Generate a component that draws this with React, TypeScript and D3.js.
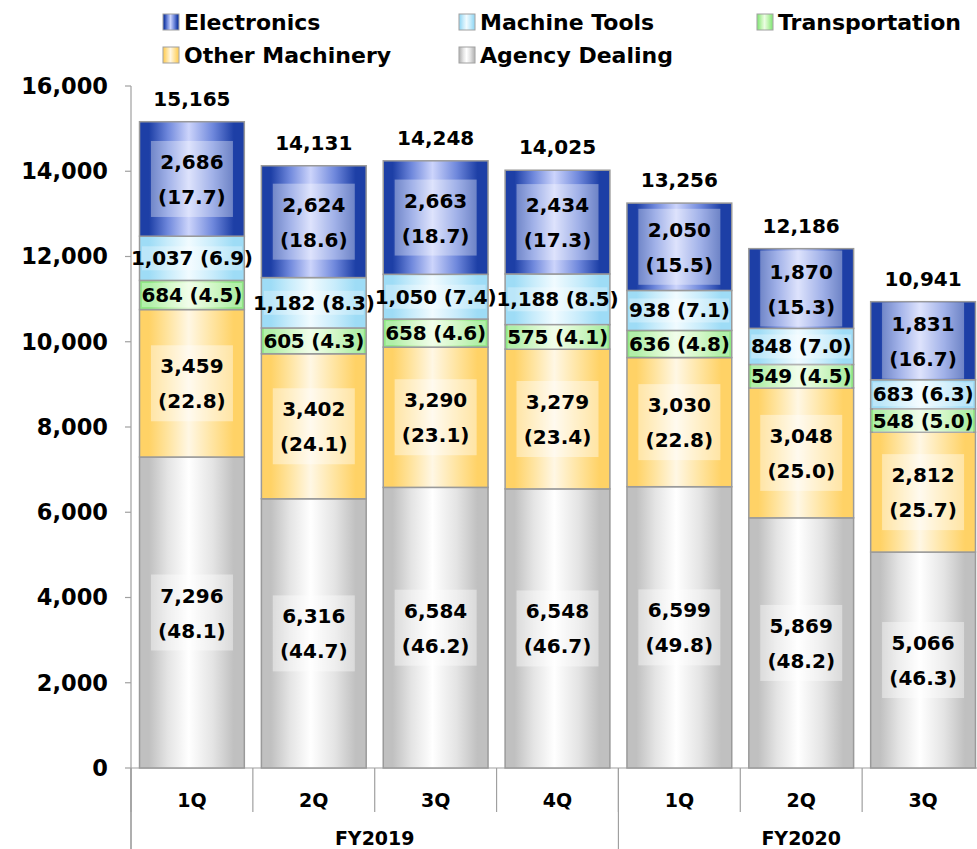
import React from "react";
import * as d3 from "d3";

const quarters = ["1Q", "2Q", "3Q", "4Q", "1Q", "2Q", "3Q"];
const years = ["FY2019", "FY2020"];
const yearSpans = [4, 3];
const agency = [7296, 6316, 6584, 6548, 6599, 5869, 5066];
const agencyPct = ["48.1", "44.7", "46.2", "46.7", "49.8", "48.2", "46.3"];
const other = [3459, 3402, 3290, 3279, 3030, 3048, 2812];
const otherPct = ["22.8", "24.1", "23.1", "23.4", "22.8", "25.0", "25.7"];
const transport = [684, 605, 658, 575, 636, 549, 548];
const transportPct = ["4.5", "4.3", "4.6", "4.1", "4.8", "4.5", "5.0"];
const machineTools = [1037, 1182, 1050, 1188, 938, 848, 683];
const machineToolsPct = ["6.9", "8.3", "7.4", "8.5", "7.1", "7.0", "6.3"];
const electronics = [2686, 2624, 2663, 2434, 2050, 1870, 1831];
const electronicsPct = ["17.7", "18.6", "18.7", "17.3", "15.5", "15.3", "16.7"];
const totals = [15165, 14131, 14248, 14025, 13256, 12186, 10941];
const yTicks = [0, 2000, 4000, 6000, 8000, 10000, 12000, 14000, 16000];

const FONT = "'DejaVu Sans', Verdana, sans-serif";

type Series = { key: string; name: string; values: number[]; pct: string[]; twoLine: boolean; edge: string; mid: string; light: string };
const series: Series[] = [
  { key: "ag", name: "Agency Dealing", values: agency, pct: agencyPct, twoLine: true, edge: "#c0c0c0", mid: "#e4e4e4", light: "#ffffff" },
  { key: "ot", name: "Other Machinery", values: other, pct: otherPct, twoLine: true, edge: "#ffd266", mid: "#ffe4a0", light: "#fff7e4" },
  { key: "tr", name: "Transportation", values: transport, pct: transportPct, twoLine: false, edge: "#90e884", mid: "#c0f4b0", light: "#ebfde2" },
  { key: "mt", name: "Machine Tools", values: machineTools, pct: machineToolsPct, twoLine: false, edge: "#9edcf6", mid: "#c8ecfb", light: "#f0fbff" },
  { key: "el", name: "Electronics", values: electronics, pct: electronicsPct, twoLine: true, edge: "#1d3fa6", mid: "#6f88dc", light: "#ccd4fb" },
];

const legendItems = [
  { key: "el", name: "Electronics", x: 163, y: 22 },
  { key: "mt", name: "Machine Tools", x: 459, y: 22 },
  { key: "tr", name: "Transportation", x: 757, y: 22 },
  { key: "ot", name: "Other Machinery", x: 163, y: 55 },
  { key: "ag", name: "Agency Dealing", x: 459, y: 55 },
];

const fmt = d3.format(",");

export default function App() {
  const W = 977, H = 849;
  const left = 131, right = 984, top = 86, bottom = 768;
  const x = d3.scaleBand<number>().domain(quarters.map((_, i) => i)).range([left, right]).paddingInner(0.14).paddingOuter(0.07);
  const y = d3.scaleLinear().domain([0, 16000]).range([bottom, top]);
  const bandStart = (i: number) => left + i * ((right - left) / quarters.length);

  const stacked = d3.stack<number>().keys(series.map((_, k) => String(k))).value((i, key) => series[+key].values[i])(quarters.map((_, i) => i));

  return (
    <svg width={W} height={H} style={{ display: "block", position: "absolute", left: 0, top: 0 }} fontFamily={FONT}>
      <defs>
        {series.map((s) => (
          <linearGradient key={s.key} id={"g-" + s.key} x1="0" x2="1" y1="0" y2="0">
            <stop offset="0%" stopColor={s.edge} />
            <stop offset="9%" stopColor={s.edge} />
            <stop offset="27%" stopColor={s.mid} />
            <stop offset="47%" stopColor={s.light} />
            <stop offset="70%" stopColor={s.mid} />
            <stop offset="90%" stopColor={s.edge} />
            <stop offset="100%" stopColor={s.edge} />
          </linearGradient>
        ))}
      </defs>
      <rect x={0} y={0} width={W} height={H} fill="#fff" />

      {/* legend */}
      {legendItems.map((l) => (
        <g key={l.key}>
          <rect x={l.x} y={l.y - 8} width={16} height={16} fill={`url(#g-${l.key})`} stroke="#a0a0a0" strokeWidth={1} />
          <text x={l.x + 21} y={l.y} dy="0.35em" fontSize={22} fontWeight="bold" fill="#000">{l.name}</text>
        </g>
      ))}

      {/* y axis */}
      <line x1={left} x2={left} y1={top} y2={H} stroke="#a0a0a0" strokeWidth={1.2} />
      {yTicks.map((t) => (
        <g key={t}>
          <line x1={left - 6} x2={left} y1={y(t)} y2={y(t)} stroke="#a0a0a0" strokeWidth={1.2} />
          <text x={108} y={y(t)} dy="0.35em" textAnchor="end" fontSize={22.5} fontWeight="bold" fill="#000">{fmt(t)}</text>
        </g>
      ))}

      {/* x axis */}
      <line x1={left} x2={right} y1={bottom} y2={bottom} stroke="#a0a0a0" strokeWidth={1.2} />
      {quarters.map((q, i) => (
        <g key={i}>
          <line x1={bandStart(i)} x2={bandStart(i)} y1={bottom} y2={812} stroke="#a0a0a0" strokeWidth={1.2} />
          <text x={(x(i) as number) + x.bandwidth() / 2} y={800} dy="0.35em" textAnchor="middle" fontSize={19} fontWeight="bold" fill="#000">{q}</text>
        </g>
      ))}
      {(() => {
        let acc = 0;
        return years.map((yr, k) => {
          const s = bandStart(acc);
          acc += yearSpans[k];
          const e = bandStart(acc);
          return (
            <g key={yr}>
              <line x1={s} x2={s} y1={bottom} y2={H} stroke="#a0a0a0" strokeWidth={1.2} />
              <text x={(s + e) / 2} y={838} dy="0.35em" textAnchor="middle" fontSize={19} fontWeight="bold" fill="#000">{yr}</text>
            </g>
          );
        });
      })()}

      {/* bars */}
      {stacked.map((layer, k) => (
        <g key={k}>
          {layer.map((d, i) => (
            <rect key={i} x={x(i)} y={y(d[1])} width={x.bandwidth()} height={y(d[0]) - y(d[1])} fill={`url(#g-${series[k].key})`} stroke="#9a9a9a" strokeWidth={1.5} />
          ))}
        </g>
      ))}

      {/* labels */}
      {stacked.map((layer, k) => (
        <g key={"l" + k}>
          {layer.map((d, i) => {
            const s = series[k];
            const cx = (x(i) as number) + x.bandwidth() / 2;
            const cy = (y(d[0]) + y(d[1])) / 2;
            if (s.twoLine) {
              return (
                <g key={i}>
                  <rect x={cx - 41} y={cy - 38} width={82} height={76} fill="#fff" opacity={s.key === "el" ? 0.35 : 0.4} />
                  <text x={cx} y={cy - 17} dy="0.35em" textAnchor="middle" fontSize={20} fontWeight="bold" fill="#000">{fmt(s.values[i])}</text>
                  <text x={cx} y={cy + 18} dy="0.35em" textAnchor="middle" fontSize={20} fontWeight="bold" fill="#000">({s.pct[i]})</text>
                </g>
              );
            }
            return (
              <g key={i}>
                <rect x={cx - 50} y={cy - 12} width={100} height={24} fill="#fff" opacity={0.3} />
                <text x={cx} y={cy} dy="0.35em" textAnchor="middle" fontSize={20} fontWeight="bold" fill="#000" letterSpacing={-0.2}>{fmt(s.values[i])} ({s.pct[i]})</text>
              </g>
            );
          })}
        </g>
      ))}

      {/* totals */}
      {totals.map((t, i) => (
        <text key={i} x={(x(i) as number) + x.bandwidth() / 2} y={y(t) - 23} dy="0.35em" textAnchor="middle" fontSize={20} fontWeight="bold" fill="#000">{fmt(t)}</text>
      ))}
    </svg>
  );
}
